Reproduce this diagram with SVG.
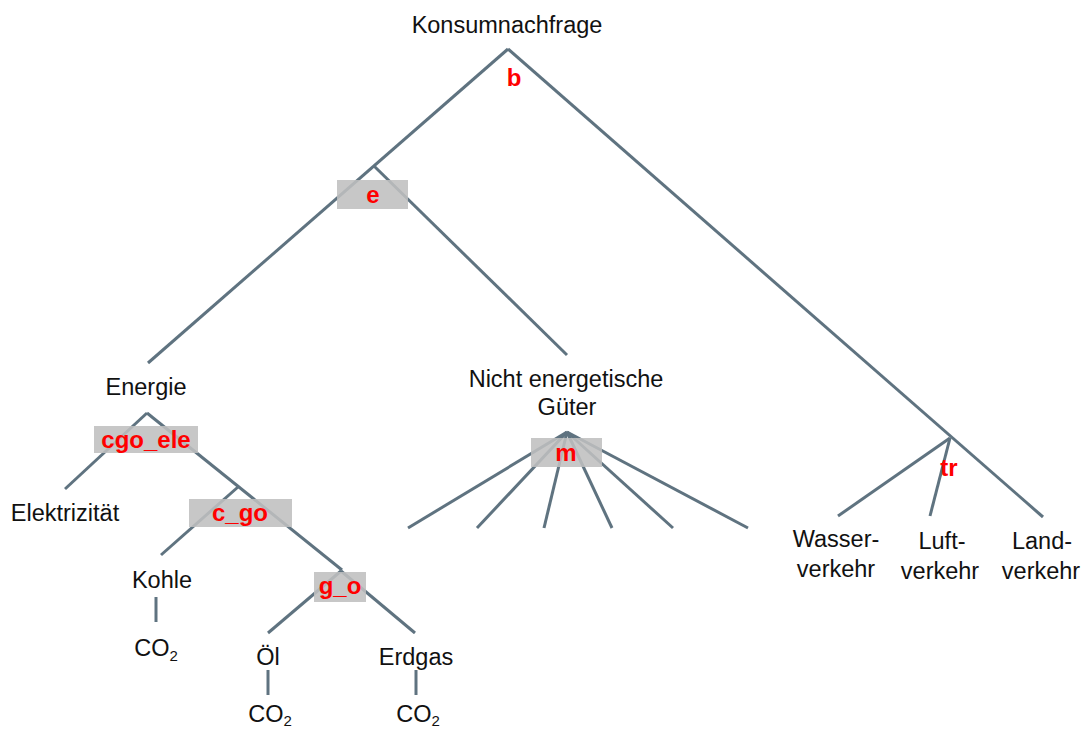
<svg xmlns="http://www.w3.org/2000/svg" width="1085" height="733" viewBox="0 0 1085 733">
  <style>
    .edge { stroke: #5f7380; stroke-width: 3; fill: none; stroke-linecap: butt; }
    .lbl { font-family: "Liberation Sans", Arial, sans-serif; font-size: 23.5px; fill: #111; text-anchor: middle; }
    .sub { font-size: 15px; }
    .ela { font-family: "Liberation Sans", Arial, sans-serif; font-size: 24px; font-weight: bold; fill: #ff0000; text-anchor: middle; }
    .box { fill: #bfbfbf; fill-opacity: 0.88; }
  </style>
  <rect width="1085" height="733" fill="#ffffff"/>

  <!-- tree connectors -->
  <g id="connectors">
    <line class="edge" x1="508" y1="49" x2="148" y2="363"/>
    <line class="edge" x1="508" y1="49" x2="1043" y2="517"/>
    <line class="edge" x1="374" y1="166" x2="567" y2="355"/>
    <line class="edge" x1="147" y1="413" x2="65" y2="489"/>
    <line class="edge" x1="147" y1="413" x2="342" y2="570"/>
    <line class="edge" x1="238" y1="487" x2="161" y2="555"/>
    <line class="edge" x1="156" y1="597" x2="156" y2="622"/>
    <line class="edge" x1="341" y1="571" x2="268" y2="633"/>
    <line class="edge" x1="341" y1="571" x2="415" y2="633"/>
    <line class="edge" x1="268" y1="670" x2="268" y2="695"/>
    <line class="edge" x1="416" y1="670" x2="416" y2="695"/>
    <line class="edge" x1="567" y1="432" x2="408" y2="528"/>
    <line class="edge" x1="567" y1="432" x2="477" y2="528"/>
    <line class="edge" x1="567" y1="432" x2="544" y2="528"/>
    <line class="edge" x1="567" y1="432" x2="612" y2="528"/>
    <line class="edge" x1="567" y1="432" x2="673" y2="528"/>
    <line class="edge" x1="567" y1="432" x2="748" y2="528"/>
    <line class="edge" x1="950" y1="438" x2="838" y2="516"/>
    <line class="edge" x1="950" y1="438" x2="930" y2="516"/>
  </g>

  <!-- elasticity markers -->
  <g id="elast-b"><text class="ela" x="514" y="86">b</text></g>
  <g id="elast-e">
    <rect class="box" x="337" y="180" width="71" height="29"/>
    <text class="ela" x="373" y="203">e</text>
  </g>
  <g id="elast-cgo_ele">
    <rect class="box" x="94" y="426" width="104" height="27"/>
    <text class="ela" x="146" y="448">cgo_ele</text>
  </g>
  <g id="elast-c_go">
    <rect class="box" x="189" y="499" width="103" height="28"/>
    <text class="ela" x="240" y="521">c_go</text>
  </g>
  <g id="elast-g_o">
    <rect class="box" x="314" y="572" width="52" height="30"/>
    <text class="ela" x="340" y="594">g_o</text>
  </g>
  <g id="elast-m">
    <rect class="box" x="531" y="438" width="71" height="29"/>
    <text class="ela" x="566" y="461">m</text>
  </g>
  <g id="elast-tr"><text class="ela" x="949" y="476">tr</text></g>

  <!-- goods -->
  <g id="konsumnachfrage"><text class="lbl" x="507" y="33">Konsumnachfrage</text></g>
  <g id="energie"><text class="lbl" x="146" y="395">Energie</text></g>
  <g id="nicht-energetisch">
    <text class="lbl" x="566" y="387">Nicht energetische</text>
    <text class="lbl" x="567" y="415">Güter</text>
  </g>
  <g id="elektrizitaet"><text class="lbl" x="65" y="521">Elektrizität</text></g>
  <g id="kohle"><text class="lbl" x="162" y="588">Kohle</text></g>
  <g id="kohle-co2"><text class="lbl" x="156" y="656">CO<tspan class="sub" dy="5">2</tspan></text></g>
  <g id="oel"><text class="lbl" x="268" y="665">Öl</text></g>
  <g id="oel-co2"><text class="lbl" x="270" y="722">CO<tspan class="sub" dy="4">2</tspan></text></g>
  <g id="erdgas"><text class="lbl" x="416" y="665">Erdgas</text></g>
  <g id="erdgas-co2"><text class="lbl" x="418" y="722">CO<tspan class="sub" dy="4">2</tspan></text></g>
  <g id="wasserverkehr">
    <text class="lbl" x="836" y="547">Wasser-</text>
    <text class="lbl" x="836" y="577">verkehr</text>
  </g>
  <g id="luftverkehr">
    <text class="lbl" x="942" y="549">Luft-</text>
    <text class="lbl" x="940" y="579">verkehr</text>
  </g>
  <g id="landverkehr">
    <text class="lbl" x="1042" y="549">Land-</text>
    <text class="lbl" x="1041" y="579">verkehr</text>
  </g>
</svg>
